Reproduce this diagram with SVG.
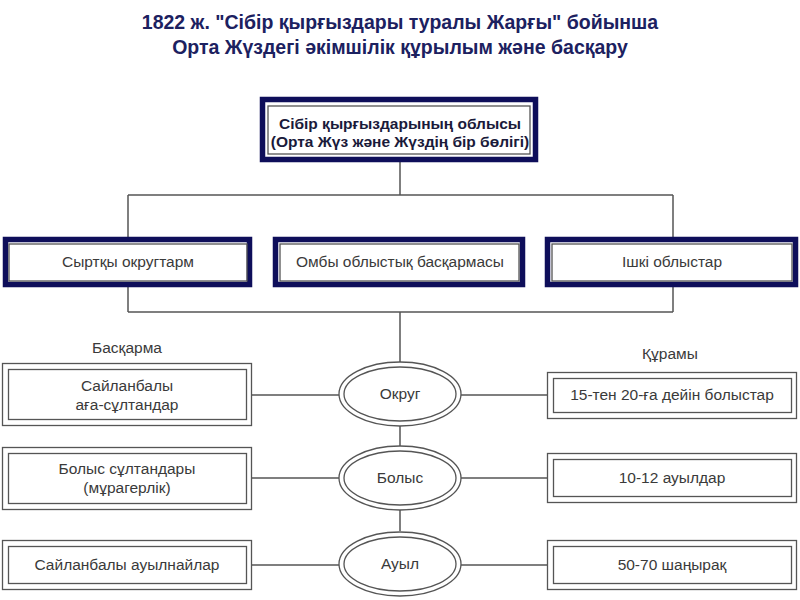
<svg xmlns="http://www.w3.org/2000/svg" width="800" height="600" viewBox="0 0 800 600">
<style>
.title{font-family:"Liberation Sans",Arial,sans-serif;font-weight:bold;font-size:19.5px;fill:#1c2160;text-anchor:middle}
.t{font-family:"Liberation Sans",Arial,sans-serif;font-size:15.5px;fill:#3a3a3a;text-anchor:middle}
.tb{font-family:"Liberation Sans",Arial,sans-serif;font-size:15.5px;font-weight:bold;fill:#1a1a3a;text-anchor:middle}
.thick{fill:#fff;stroke:#0e0e5a;stroke-width:5.5}
.thin{fill:none;stroke:#555;stroke-width:1.3}
.dbl{fill:#fff;stroke:#555;stroke-width:1.3}
.conn{fill:none;stroke:#555;stroke-width:1.5}
</style>
<rect width="800" height="600" fill="#fff"/>
<text class="title" x="400" y="29">1822 ж. "Сібір қырғыздары туралы Жарғы" бойынша</text>
<text class="title" x="400" y="54">Орта Жүздегі әкімшілік құрылым және басқару</text>

<g id="connectors">
<path class="conn" d="M400 162V195M128 195H673M128 195V312M673 195V312M128 312H673M400 312V362M400 426V446M400 510V531"/>
<path class="conn" d="M252 395H339M461 395H547M252 478H339M461 478H547M252 565H339M461 565H547"/>
</g>

<g id="top">
<rect class="thick" x="262.5" y="99.5" width="273" height="60"/>
<rect class="thin" x="268" y="106" width="262" height="48"/>
<text class="tb" x="400" y="129">Сібір қырғыздарының облысы</text>
<text class="tb" x="400" y="147">(Орта Жүз және Жүздің бір бөлігі)</text>
</g>

<g id="syrtky">
<rect class="thick" x="5.5" y="239.5" width="244" height="45"/>
<rect class="thin" x="9" y="244" width="238" height="37"/>
<text class="t" x="128" y="267">Сыртқы округтарм</text>
</g>
<g id="omby">
<rect class="thick" x="275.5" y="239.5" width="247" height="45"/>
<rect class="thin" x="280" y="244" width="239" height="37"/>
<text class="t" x="400" y="267">Омбы облыстық басқармасы</text>
</g>
<g id="ishki">
<rect class="thick" x="547.5" y="239.5" width="248" height="45"/>
<rect class="thin" x="552" y="244" width="240" height="37"/>
<text class="t" x="672" y="267">Ішкі облыстар</text>
</g>

<text class="t" x="127" y="353">Басқарма</text>
<text class="t" x="670" y="359">Құрамы</text>

<g id="left1">
<rect class="dbl" x="2.5" y="363.5" width="249" height="62"/>
<rect class="thin" x="8.5" y="369.5" width="238" height="50"/>
<text class="t" x="127" y="391">Сайланбалы</text>
<text class="t" x="127" y="410">аға-сұлтандар</text>
</g>
<g id="left2">
<rect class="dbl" x="2.5" y="447.5" width="249" height="62"/>
<rect class="thin" x="8.5" y="453.5" width="238" height="50"/>
<text class="t" x="127" y="474">Болыс сұлтандары</text>
<text class="t" x="127" y="493">(мұрагерлік)</text>
</g>
<g id="left3">
<rect class="dbl" x="2.5" y="540.5" width="249" height="49"/>
<rect class="thin" x="8.5" y="546.5" width="238" height="37"/>
<text class="t" x="127" y="570">Сайланбалы ауылнайлар</text>
</g>

<g id="okrug">
<ellipse class="dbl" cx="400" cy="394" rx="61" ry="32"/>
<ellipse class="thin" cx="400" cy="394" rx="56" ry="27"/>
<text class="t" x="400" y="399">Округ</text>
</g>
<g id="bolys">
<ellipse class="dbl" cx="400" cy="478" rx="61" ry="32"/>
<ellipse class="thin" cx="400" cy="478" rx="56" ry="27"/>
<text class="t" x="400" y="483">Болыс</text>
</g>
<g id="auyl">
<ellipse class="dbl" cx="400" cy="564" rx="61" ry="32"/>
<ellipse class="thin" cx="400" cy="564" rx="56" ry="27"/>
<text class="t" x="400" y="569">Ауыл</text>
</g>

<g id="right1">
<rect class="dbl" x="547.5" y="372.5" width="249" height="46"/>
<rect class="thin" x="553.5" y="378.5" width="238" height="34"/>
<text class="t" x="672" y="400">15-тен 20-ға дейін болыстар</text>
</g>
<g id="right2">
<rect class="dbl" x="547.5" y="453.5" width="249" height="49"/>
<rect class="thin" x="553.5" y="459.5" width="238" height="37"/>
<text class="t" x="672" y="483">10-12 ауылдар</text>
</g>
<g id="right3">
<rect class="dbl" x="547.5" y="540.5" width="249" height="49"/>
<rect class="thin" x="553.5" y="546.5" width="238" height="37"/>
<text class="t" x="672" y="570">50-70 шаңырақ</text>
</g>
</svg>
